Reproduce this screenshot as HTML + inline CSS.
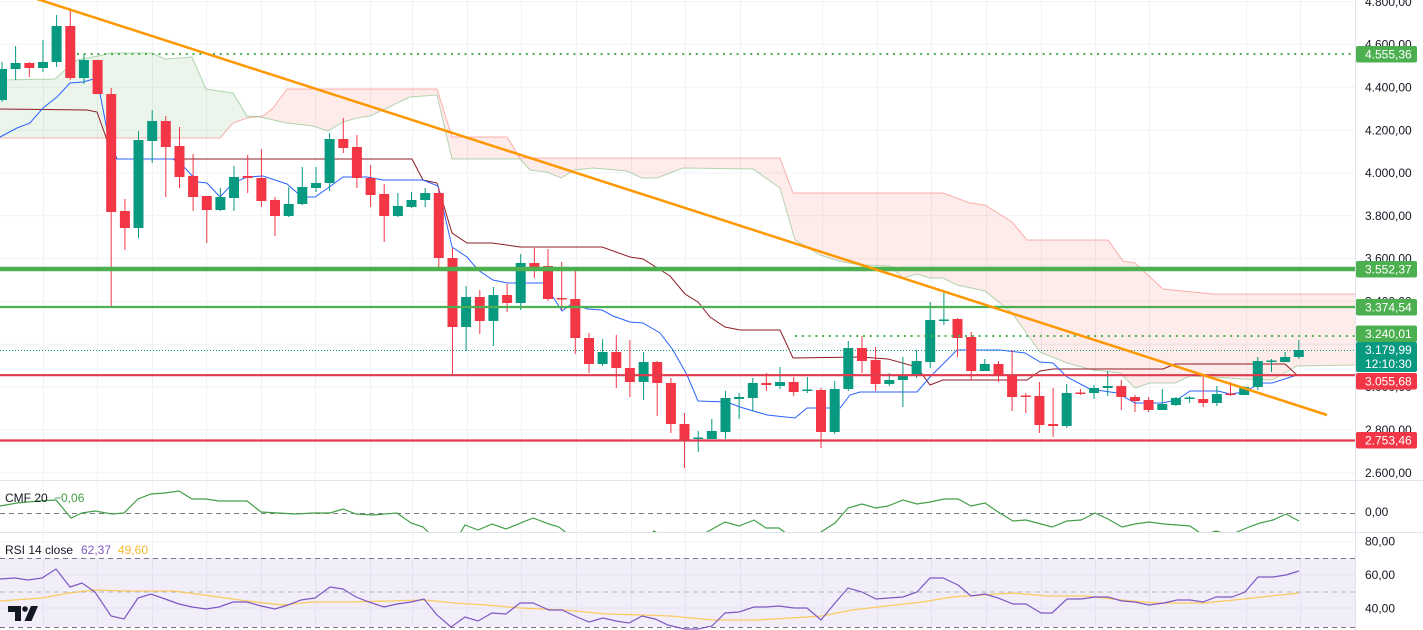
<!DOCTYPE html>
<html><head><meta charset="utf-8"><style>
html,body{margin:0;padding:0;background:#fff;}
svg{display:block;font-family:"Liberation Sans",sans-serif;}
</style></head><body>
<svg width="1423" height="630" viewBox="0 0 1423 630" xmlns="http://www.w3.org/2000/svg">
<defs>
<clipPath id="mc"><rect x="0" y="0" width="1355" height="480"/></clipPath>
<clipPath id="cc"><rect x="0" y="481" width="1355" height="51"/></clipPath>
<clipPath id="rc"><rect x="0" y="533" width="1355" height="97"/></clipPath>
</defs>
<rect width="1423" height="630" fill="#fff"/>
<!-- vertical grid -->
<g stroke="#f0f2f6" stroke-width="1">
<path d="M43.5 0V630M97.5 0V630M152.5 0V630M206.5 0V630M261.5 0V630M315.5 0V630M370.5 0V630M412.5 0V630M467.5 0V630M521.5 0V630M576.5 0V630M631.5 0V630M685.5 0V630M740.5 0V630M822.5 0V630M877.5 0V630M931.5 0V630M986.5 0V630M1041.5 0V630M1095.5 0V630M1149.5 0V630M1246.5 0V630M1300.5 0V630"/>
<!-- horizontal grid main -->
<path d="M0 1.6H1355M0 44.4H1355M0 87.3H1355M0 130.1H1355M0 172.9H1355M0 215.7H1355M0 258.6H1355M0 301.4H1355M0 344.2H1355M0 387H1355M0 429.9H1355M0 472.7H1355"/>
<path d="M0 542H1355M0 575H1355M0 608H1355"/>
</g>
<g clip-path="url(#mc)">
<!-- cloud fills -->
<polygon fill="rgba(67,160,71,0.1)" points="0,80 55,79 67,68 77,60 103,55 110,53 152,53 165,59 192,57 206,89 233,93 247,116 258,116.5 247,118 233,123 220,138 0,138"/>
<polygon fill="rgba(244,67,54,0.1)" points="258,116.5 263,116 273,108 287,89 437,89 452,137 507,137 520,158 780,158 793,193 943,193 970,203 985,205 1012,222 1027,240 1108,240 1123,261 1135,263 1163,289 1213,294 1355,294 1355,365 1297,366 1272,380 1242,379 1213,377 1190,376 1175,383 1150,383 1135,388 1120,373 1093,370 1067,363 1040,352 1012,313 985,291 957,285 943,278 930,278 917,274 903,278 890,266 860,265 843,262 820,255 795,240 780,188 753,169 683,168 657,178 642,178 627,171 593,168 575,170 561,178 547,172 530,170 520,159 452,159 437,95 410,97 383,110 370,116 357,118 343,122 328,131 313,126 287,123 260,117"/>
<!-- senkou lines -->
<polyline fill="none" stroke="rgba(244,67,54,0.4)" stroke-width="1" points="0,138 220,138 233,123 247,118 263,116 273,108 287,89 437,89 452,137 507,137 520,158 780,158 793,193 943,193 970,203 985,205 1012,222 1027,240 1108,240 1123,261 1135,263 1163,289 1213,294 1355,294"/>
<polyline fill="none" stroke="rgba(67,160,71,0.4)" stroke-width="1" points="0,80 55,79 67,68 77,60 103,55 110,53 152,53 165,59 192,57 206,89 233,93 247,116 260,117 287,123 313,126 328,131 343,122 357,118 370,116 383,110 410,97 437,95 452,159 520,159 530,170 547,172 561,178 575,170 593,168 627,171 642,178 657,178 683,168 753,169 780,188 795,240 820,255 843,262 860,265 890,266 903,278 917,274 930,278 943,278 957,285 985,291 1012,313 1040,352 1067,363 1093,370 1120,373 1135,388 1150,383 1175,383 1190,376 1213,377 1242,379 1272,380 1297,366 1355,365"/>
<!-- kijun -->
<polyline fill="none" stroke="#8e1c24" stroke-width="1" points="0,109 87,110 97,112 107,140 117,159 412,159 423,180 437,183 452,233 467,243 492,243 520,247 602,247 630,257 643,259 670,276 685,294 698,302 710,317 725,327 740,330 780,330 793,358 860,357 888,359 917,367 930,385 943,380 1027,380 1040,371 1053,369 1163,369 1175,364 1285,364 1298,376"/>
<!-- tenkan -->
<polyline fill="none" stroke="#2962ff" stroke-width="1" points="0,137 17,128 30,123 43,108 57,97 70,83 83,82 97,78 107,130 117,159 173,159 185,168 198,182 207,183 220,197 233,183 247,177 263,176 287,184 302,197 315,197 328,188 343,177 367,177 383,180 423,180 438,186 452,247 467,257 478,270 493,280 507,283 543,283 553,297 562,311 573,303 587,309 602,310 613,316 630,322 643,323 660,333 673,350 687,375 698,401 727,402 740,407 767,415 795,418 807,408 840,408 850,395 860,392 917,392 930,377 957,350 1000,350 1025,353 1040,362 1053,363 1067,377 1090,389 1117,393 1135,403 1162,403 1177,400 1190,391 1218,391 1230,394 1245,392 1260,383 1272,383 1297,375"/>
<!-- price line -->
<path d="M0 350.5H1355" stroke="#089981" stroke-width="1" stroke-dasharray="1 2"/>
<!-- green candles -->
<g stroke="#089981" fill="#089981" stroke-width="1">
<path fill="none" d="M2 62V102M15.6 46V80M43 40V72M56.6 15V67M83.9 54V84M138.5 131V238M152.2 110V163M220.4 188V211M234 166V211M288.7 187V217M302.3 167V205M316 167V192M329.6 133V191M397.9 193V217M411.5 192V208M425.2 188V207M466.1 286V351M493.4 287V346M520.7 254V310M602.6 339V366M643.6 352V400M698.2 431V452M711.8 419V439M725.5 391V439M739.1 393V419M752.8 378V411M780 367V389M807.4 377V393M834.7 381V434M848.3 341V391M889.3 373V386M902.9 357V407M916.6 350V378M930.2 302V368M943.9 292V325M984.8 359V371M1066.7 384V428M1094 385V399M1107.7 371V396M1162.3 389V410M1175.9 397V406M1189.6 396V403M1216.9 386V406M1244.2 386V395M1257.8 357V390M1271.5 359V372M1285.1 352V362M1298.8 340V359"/>
<g stroke="none">
<rect x="-3" y="69" width="10" height="31"/><rect x="10.6" y="63" width="10" height="6"/><rect x="38" y="62" width="10" height="6"/><rect x="51.6" y="26" width="10" height="36"/><rect x="78.9" y="60" width="10" height="18"/><rect x="133.5" y="140" width="10" height="88"/><rect x="147.2" y="121" width="10" height="20"/><rect x="215.4" y="197" width="10" height="13"/><rect x="229" y="177" width="10" height="21"/><rect x="283.7" y="204" width="10" height="12"/><rect x="297.3" y="187" width="10" height="17"/><rect x="311" y="183" width="10" height="5"/><rect x="324.6" y="139" width="10" height="44"/><rect x="392.9" y="206" width="10" height="10"/><rect x="406.5" y="200" width="10" height="7"/><rect x="420.2" y="193" width="10" height="7"/><rect x="461.1" y="297" width="10" height="30"/><rect x="488.4" y="295" width="10" height="26"/><rect x="515.7" y="263" width="10" height="40"/><rect x="597.6" y="352" width="10" height="12"/><rect x="638.6" y="362" width="10" height="20"/><rect x="693.2" y="437.5" width="10" height="1.5"/><rect x="706.8" y="431" width="10" height="8"/><rect x="720.5" y="398" width="10" height="34"/><rect x="734.1" y="397" width="10" height="2"/><rect x="747.8" y="383" width="10" height="15"/><rect x="775" y="382" width="10" height="4"/><rect x="802.4" y="389.5" width="10" height="1.5"/><rect x="829.7" y="389" width="10" height="43"/><rect x="843.3" y="348" width="10" height="41"/><rect x="884.3" y="380" width="10" height="4"/><rect x="897.9" y="376" width="10" height="4"/><rect x="911.6" y="361" width="10" height="15"/><rect x="925.2" y="320" width="10" height="42"/><rect x="938.9" y="319.5" width="10" height="1.5"/><rect x="979.8" y="364" width="10" height="7"/><rect x="1061.7" y="393" width="10" height="33"/><rect x="1089" y="388" width="10" height="5"/><rect x="1102.7" y="386" width="10" height="2"/><rect x="1157.3" y="404" width="10" height="6"/><rect x="1170.9" y="398" width="10" height="7"/><rect x="1184.6" y="397.5" width="10" height="1.5"/><rect x="1211.9" y="394" width="10" height="9"/><rect x="1239.2" y="387" width="10" height="8"/><rect x="1252.8" y="361" width="10" height="26"/><rect x="1266.5" y="360.5" width="10" height="1.5"/><rect x="1280.1" y="357" width="10" height="5"/><rect x="1293.8" y="350" width="10" height="7"/>
</g></g>
<!-- red candles -->
<g stroke="#f23645" fill="#f23645" stroke-width="1">
<path fill="none" d="M29.3 62V77M70.3 11V80M97.6 60V94M111.2 88V307M124.9 199V250M165.8 116V197M179.5 127V188M193.1 154V211M206.8 196V243M247.7 155V193M261.4 149V207M275 197V236M343.3 118V153M356.9 135V188M370.6 165V207M384.2 184V242M438.8 188V267M452.5 248V375M479.8 290V334M507.1 284V312M534.4 248V278M548 249V301M561.7 262V310M575.3 267V354M589 333V373M616.3 335V388M629.9 340V397M657.2 361V416M670.9 378V433M684.5 413V468M766.4 373V391M793.7 377V396M821 388V448M862 336V373M875.6 347V391M957.5 318V357M971.2 332V380M998.5 361V382M1012.1 350V411M1025.8 393V413M1039.4 382V433M1053.1 388V437M1080.4 389V395M1121.3 380V410M1135 395V412M1148.6 397V412M1203.2 377V407M1230.5 382V396"/>
<g stroke="none">
<rect x="24.3" y="63" width="10" height="5"/><rect x="65.3" y="26" width="10" height="52"/><rect x="92.6" y="60" width="10" height="34"/><rect x="106.2" y="94" width="10" height="118"/><rect x="119.9" y="211" width="10" height="17"/><rect x="160.8" y="121" width="10" height="26"/><rect x="174.5" y="146" width="10" height="31"/><rect x="188.1" y="176" width="10" height="21"/><rect x="201.8" y="196" width="10" height="14"/><rect x="242.7" y="176" width="10" height="2"/><rect x="256.4" y="178" width="10" height="23"/><rect x="270" y="200" width="10" height="16"/><rect x="338.3" y="139" width="10" height="9"/><rect x="351.9" y="147" width="10" height="31"/><rect x="365.6" y="178" width="10" height="17"/><rect x="379.2" y="194" width="10" height="22"/><rect x="433.8" y="193" width="10" height="65"/><rect x="447.5" y="258" width="10" height="69"/><rect x="474.8" y="297" width="10" height="24"/><rect x="502.1" y="295" width="10" height="8"/><rect x="529.4" y="263" width="10" height="4"/><rect x="543" y="266" width="10" height="33"/><rect x="556.7" y="298" width="10" height="1.5"/><rect x="570.3" y="299" width="10" height="39"/><rect x="584" y="338" width="10" height="26"/><rect x="611.3" y="352" width="10" height="16"/><rect x="624.9" y="368" width="10" height="14"/><rect x="652.2" y="362" width="10" height="21"/><rect x="665.9" y="383" width="10" height="41"/><rect x="679.5" y="424" width="10" height="16"/><rect x="761.4" y="383" width="10" height="2"/><rect x="788.7" y="382" width="10" height="10"/><rect x="816" y="390" width="10" height="42"/><rect x="857" y="348" width="10" height="13"/><rect x="870.6" y="360" width="10" height="24"/><rect x="952.5" y="319" width="10" height="19"/><rect x="966.2" y="337" width="10" height="34"/><rect x="993.5" y="364" width="10" height="12"/><rect x="1007.1" y="376" width="10" height="21"/><rect x="1020.8" y="395.5" width="10" height="1.5"/><rect x="1034.4" y="396" width="10" height="29"/><rect x="1048.1" y="424" width="10" height="2"/><rect x="1075.4" y="392.5" width="10" height="1.5"/><rect x="1116.3" y="386" width="10" height="11"/><rect x="1130" y="397" width="10" height="4"/><rect x="1143.6" y="400" width="10" height="10"/><rect x="1198.2" y="399" width="10" height="4"/><rect x="1225.5" y="393.5" width="10" height="1.5"/>
</g></g>
<!-- horizontal levels -->
<path d="M77 54H1355" stroke="#4caf50" stroke-width="2" stroke-dasharray="2 4.8"/>
<path d="M795 336H1355" stroke="#4caf50" stroke-width="2" stroke-dasharray="2 4.8"/>
<path d="M0 269H1355" stroke="#4caf50" stroke-width="4.5"/>
<path d="M0 307H1355" stroke="#4caf50" stroke-width="2.2"/>
<path d="M0 375.2H1355" stroke="#e03a4c" stroke-width="2.2"/>
<path d="M0 440.5H1355" stroke="#e03a4c" stroke-width="2.2"/>
<!-- trendline -->
<path d="M34 -2L1327 415" stroke="#ff9800" stroke-width="2.5" fill="none"/>
</g>
<!-- CMF pane -->
<path d="M0 513.5H1355" stroke="#787b86" stroke-width="1" stroke-dasharray="5 4"/>
<g clip-path="url(#cc)">
<polyline fill="none" stroke="#43a047" stroke-width="1.2" points="0,506 17,503 39,501 56,500 71,518 82,513 95,511 112,514 124,513 138,499 151,494 165,493 179,491 192,499 206,499 219,501 247,501 261,512 278,513 295,514 314,513 330,513 343,509 356,514 373,515 397,513 411,523 423,527 436,540 450,545 459,535 465,525 478,530 492,524 506,529 533,518 549,524 559,527 575,540 600,550 640,545 654,531 668,540 690,545 707,532 725,522 739,526 754,520 766,528 779,528 795,540 810,540 821,532 835,523 848,508 862,504 876,508 888,506 903,500 917,504 930,502 944,499 958,499 971,506 985,503 998,512 1013,521 1026,520 1041,524 1052,527 1067,521 1081,520 1095,513 1108,519 1122,527 1135,524 1149,522 1164,524 1177,525 1190,526 1203,535 1216,531 1230,535 1237,532 1249,527 1260,523 1273,520 1286,514 1299,521"/>
</g>
<text x="5" y="502" font-size="12" fill="#131722">CMF 20</text>
<text x="54" y="502" font-size="12" fill="#43a047">−0,06</text>
<!-- RSI pane -->
<rect x="0" y="558" width="1355" height="69" fill="rgba(126,87,194,0.1)"/>
<path d="M0 558.5H1355M0 627.5H1355" stroke="#787b86" stroke-width="1" stroke-dasharray="5 4"/>
<path d="M0 592H1355" stroke="#b2b5be" stroke-width="1" stroke-dasharray="5 4"/>
<g clip-path="url(#rc)">
<polyline fill="none" stroke="rgba(251,192,45,0.75)" stroke-width="1.3" points="0,601 42,598 69,593 95,590 126,591 173,591 204,595 247,601 282,605 312,602 347,602 390,601 424,600 455,603 486,605 520,608 564,610 607,614 642,615 670,616 713,620 757,620 791,618 822,616 852,610 887,606 922,602 952,597 982,595 1013,593 1047,596 1086,596 1121,600 1156,603 1203,603 1234,600 1299,593"/>
<polyline fill="none" stroke="#7e57c2" stroke-width="1.2" points="0,579 15,578 28,580 42,578 56,569 70,587 82,583 95,592 111,616 124,619 138,598 151,594 165,599 179,604 192,607 206,609 219,607 233,602 247,602 261,606 275,609 288,605 301,600 315,598 330,587 343,589 356,597 369,602 384,607 397,604 411,602 424,599 437,615 451,627 465,617 478,621 492,613 506,614 520,603 533,603 549,610 562,610 577,617 589,622 603,618 616,621 629,623 642,616 655,619 668,625 680,628 685,629 698,629 712,626 725,613 739,612 754,607 766,607 779,606 794,608 807,608 821,620 835,603 848,588 862,592 876,599 889,598 903,597 917,592 930,578 943,578 958,585 971,596 985,594 998,598 1013,604 1026,604 1041,613 1052,613 1067,599 1081,599 1095,597 1108,597 1122,601 1135,602 1149,605 1164,603 1177,600 1190,600 1203,602 1216,597 1232,597 1245,592 1258,577 1273,577 1286,575 1299,571"/>
</g>
<text x="5" y="554" font-size="12" fill="#131722">RSI 14 close</text>
<text x="81" y="554" font-size="12" fill="#7e57c2">62,37</text>
<text x="118" y="554" font-size="12" fill="#f5b82e">49,60</text>
<!-- TV logo -->
<g fill="#131722">
<path d="M8 606h13v15h-6v-9h-7z"/>
<circle cx="25" cy="609" r="2.8"/>
<path d="M31 606h7l-6.5 15h-7z"/>
</g>
<!-- separators -->
<path d="M0 480.5H1423M0 532.5H1423" stroke="#e0e3eb" stroke-width="1"/>
<path d="M1355.5 0V630" stroke="#e0e3eb" stroke-width="1"/>
<!-- axis tick labels -->
<g font-size="12" fill="#131722">
<text x="1365" y="6">4.800,00</text>
<text x="1365" y="48.5">4.600,00</text>
<text x="1365" y="91.5">4.400,00</text>
<text x="1365" y="134.5">4.200,00</text>
<text x="1365" y="177">4.000,00</text>
<text x="1365" y="220">3.800,00</text>
<text x="1365" y="262.5">3.600,00</text>
<text x="1365" y="305.5">3.400,00</text>
<text x="1365" y="391">3.000,00</text>
<text x="1365" y="434">2.800,00</text>
<text x="1365" y="477">2.600,00</text>
<text x="1365" y="516">0,00</text>
<text x="1365" y="545.5">80,00</text>
<text x="1365" y="579">60,00</text>
<text x="1365" y="612.5">40,00</text>
</g>
<!-- price label boxes -->
<g font-size="12" fill="#fff">
<rect x="1356" y="46" width="61" height="16.5" rx="2" fill="#4caf50"/>
<text x="1365" y="58.5">4.555,36</text>
<rect x="1356" y="261" width="61" height="16.5" rx="2" fill="#4caf50"/>
<text x="1365" y="273.5">3.552,37</text>
<rect x="1356" y="299" width="61" height="16.5" rx="2" fill="#4caf50"/>
<text x="1365" y="311.5">3.374,54</text>
<rect x="1356" y="325.5" width="61" height="16.5" rx="2" fill="#4caf50"/>
<text x="1365" y="338">3.240,01</text>
<rect x="1356" y="342" width="61" height="30" rx="2" fill="#089981"/>
<text x="1365" y="354">3.179,99</text>
<text x="1365" y="368">12:10:30</text>
<rect x="1356" y="373" width="61" height="16.5" rx="2" fill="#f23645"/>
<text x="1365" y="385.5">3.055,68</text>
<rect x="1356" y="432" width="61" height="16.5" rx="2" fill="#f23645"/>
<text x="1365" y="444.5">2.753,46</text>
</g>
</svg>
</body></html>
